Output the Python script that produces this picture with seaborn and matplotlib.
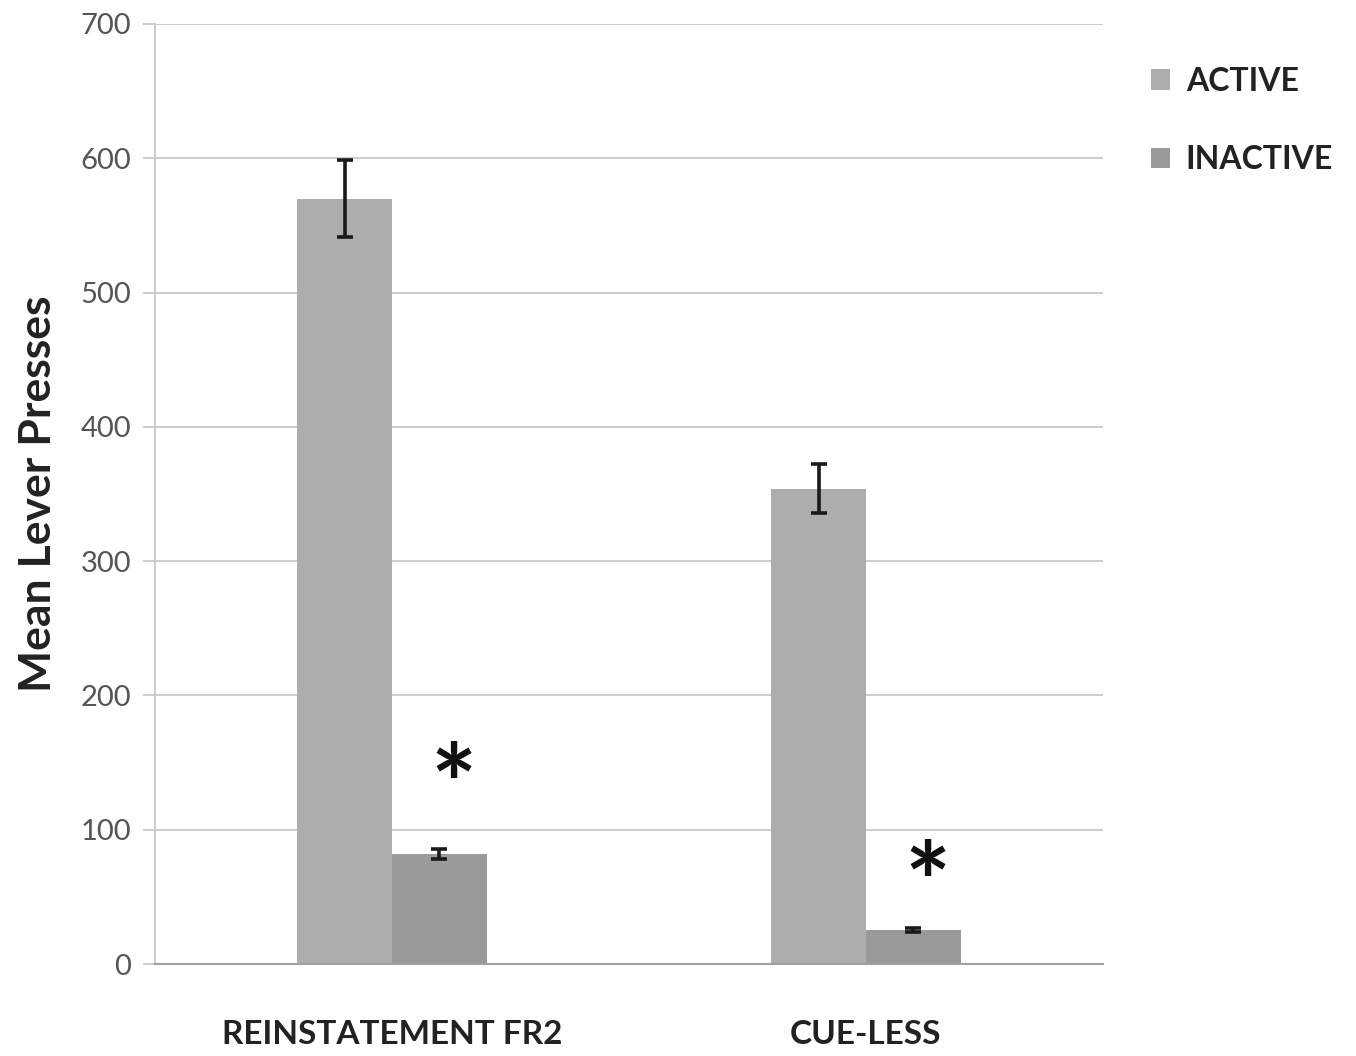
import matplotlib
matplotlib.use("Agg")
import matplotlib.pyplot as plt
import seaborn as sns
import pandas as pd

# Lever-press data
conditions = ["REINSTATEMENT FR2", "CUE-LESS"]
levers = ["ACTIVE", "INACTIVE"]
active_means = [570, 354]
inactive_means = [82, 25]
active_sem = [29, 18]
inactive_sem = [4, 1.5]
star_heights = [128, 55]  # y position of the significance markers

yticks = [0, 100, 200, 300, 400, 500, 600, 700]

df = pd.DataFrame({
    "condition": conditions * 2,
    "lever": [levers[0]] * 2 + [levers[1]] * 2,
    "presses": active_means + inactive_means,
    "sem": active_sem + inactive_sem,
})

sns.set_theme(style="white")
plt.rcParams["font.family"] = ["Lato", "DejaVu Sans"]

fig = plt.figure(figsize=(13.56, 10.56), dpi=100)
ax = fig.add_axes([0.1143, 0.0871, 0.6991, 0.8902])

palette = {"ACTIVE": "#adadad", "INACTIVE": "#9a9a9a"}
sns.barplot(data=df, x="condition", y="presses", hue="lever",
            order=conditions, hue_order=levers, palette=palette,
            width=0.4, gap=0, errorbar=None, saturation=1,
            linewidth=0, ax=ax)

# error bars centred on each bar
bars = [p for p in ax.patches if p.get_height() > 0]
bars = sorted(bars, key=lambda p: p.get_x())
sems = {}
for _, r in df.iterrows():
    sems[(r["condition"], r["lever"])] = r["sem"]
order = [(c, l) for c in conditions for l in levers]
for p, key in zip(bars, order):
    cx = p.get_x() + p.get_width() / 2
    ax.errorbar(cx, p.get_height(), yerr=sems[key], color="#1a1a1a",
                elinewidth=2.6, capsize=6, capthick=2.6, zorder=5)

# significance markers above inactive bars
inactive_bars = [bars[1], bars[3]]
for p, h in zip(inactive_bars, star_heights):
    ax.text(p.get_x() + p.get_width() / 2 + 0.03, h, "*", ha="center", va="center",
            fontsize=78, fontweight="bold", color="#111111")

ax.set_xlim(-0.5, 1.5)
ax.set_ylim(0, 700)
ax.set_yticks(yticks)
ax.set_yticklabels([str(t) for t in yticks], fontsize=21, color="#555555")
ax.yaxis.grid(True, color="#c8c8c8", linewidth=1.3)
ax.set_axisbelow(True)
ax.tick_params(axis="y", length=9, width=1.3, color="#c8c8c8", pad=8, left=True)
ax.tick_params(axis="x", length=0, pad=40)
for lbl in ax.get_xticklabels():
    lbl.set_fontsize(24)
    lbl.set_fontweight("bold")
    lbl.set_color("#222222")

for side in ["top", "right"]:
    ax.spines[side].set_visible(False)
ax.spines["left"].set_color("#c8c8c8")
ax.spines["left"].set_linewidth(1.3)
ax.spines["bottom"].set_color("#a0a0a0")
ax.spines["bottom"].set_linewidth(1.5)

ax.set_xlabel("")
ax.set_ylabel("Mean Lever Presses", fontsize=32, fontweight="bold",
              color="#222222", labelpad=16)

leg = ax.legend(loc="upper left", bbox_to_anchor=(1.02, 0.985), frameon=False,
                fontsize=23, handlelength=0.6, handleheight=0.6,
                handletextpad=0.5, labelspacing=1.55)
for t in leg.get_texts():
    t.set_fontweight("bold")
    t.set_color("#222222")

fig.savefig("out.png", dpi=100, facecolor="white")
